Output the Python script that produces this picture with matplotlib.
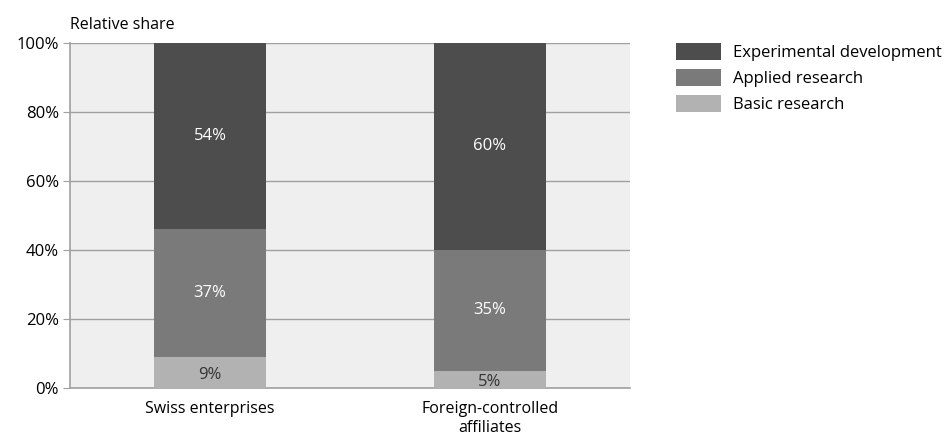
import matplotlib.pyplot as plt
import numpy as np

plt.rcParams['font.family'] = ['Open Sans', 'DejaVu Sans']

categories = ['Swiss enterprises', 'Foreign-controlled\naffiliates']
basic = [9, 5]
applied = [37, 35]
experimental = [54, 60]
series_names = ['Basic research', 'Applied research', 'Experimental development']
colors = ['#b2b2b2', '#7a7a7a', '#4d4d4d']
label_colors = ['#333333', '#ffffff', '#ffffff']

fig = plt.figure(figsize=(9.46, 4.37), dpi=100)
ax = fig.add_axes([0.074, 0.112, 0.592, 0.79])
ax.set_facecolor('#efefef')

x = np.arange(len(categories))
bottom = np.zeros(len(categories))
handles = []
for vals, name, col, lc in zip([basic, applied, experimental], series_names, colors, label_colors):
    bars = ax.bar(x, vals, width=0.4, bottom=bottom, color=col, label=name, zorder=3)
    handles.append(bars)
    for xi, b, v in zip(x, bottom, vals):
        ax.text(xi, b + v / 2 - (0.8 if v < 10 else 0), f'{v}%', ha='center', va='center',
                fontsize=12, color=lc, zorder=4)
    bottom += np.array(vals)

ax.set_xlim(-0.5, 1.5)
ax.set_ylim(0, 100)
ax.set_yticks(range(0, 101, 20))
ax.set_yticklabels([f'{t}%' for t in range(0, 101, 20)], fontsize=12)
ax.set_xticks(x)
ax.set_xticklabels(categories, fontsize=11.5, linespacing=1.3)
ax.tick_params(axis='y', length=5, color='#a0a0a0', pad=3)
ax.tick_params(axis='x', length=0, pad=9)
ax.yaxis.grid(True, color='#a0a0a0', linewidth=1, zorder=1)
ax.set_axisbelow(True)
for side in ['top', 'right']:
    ax.spines[side].set_visible(False)
for side in ['left', 'bottom']:
    ax.spines[side].set_color('#a0a0a0')
    ax.spines[side].set_linewidth(1.2)

fig.text(0.074, 0.925, 'Relative share', fontsize=11.5, ha='left', va='bottom')

ax.legend(handles[::-1], series_names[::-1], loc='upper left', bbox_to_anchor=(1.082, 1.0),
          frameon=False, fontsize=12, handlelength=2.7, handleheight=1.2,
          handletextpad=0.7, labelspacing=0.48, borderaxespad=0, borderpad=0)

fig.savefig('out.png', dpi=100)
